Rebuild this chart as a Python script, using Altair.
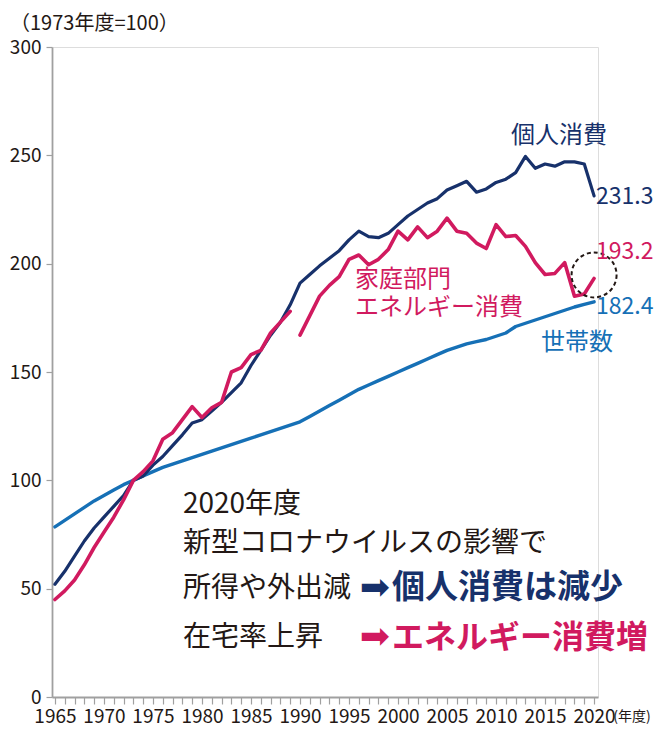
import altair as alt
import pandas as pd

# ---------------- data (1973年度 = 100) ----------------
years = list(range(1965, 2021))

consumption = [52, 58, 65, 72, 78, 83, 88, 93, 100, 102,
               107, 111, 116, 121, 126.5, 128, 132, 136, 140.5, 145,
               153, 160, 167, 173, 181, 191, 195, 199, 202.5, 206,
               211, 215, 212.5, 212, 214, 218, 222, 225, 228, 230,
               234, 236, 238, 233, 234.5, 237.5, 239, 242, 249.5, 244,
               246, 245, 247, 247, 246, 231.3]

energy_years_a = list(range(1965, 1990))
energy_a = [45, 49, 54, 61, 69, 76, 83, 91, 100, 104,
            109, 119, 122, 128, 134, 129, 133.5, 136, 150, 152,
            158, 160, 168, 173, 178]

energy_years_b = list(range(1990, 2021))
energy_b = [167, 176, 185, 190, 194, 202, 204, 199.5, 202, 206.5,
            215, 211, 217, 212, 215, 221, 215, 214, 209.5, 207,
            218, 212.5, 213, 208, 200.5, 195, 195.5, 200.5, 185, 186,
            193.2]

households = [78.5, 81.5, 84.5, 87.5, 90.5, 93, 95.5, 98, 100, 102,
              104, 106, 107.5, 109, 110.5, 112, 113.5, 115, 116.5, 118,
              119.5, 121, 122.5, 124, 125.5, 127, 129.5, 132, 134.5, 137,
              139.5, 142, 144, 146, 148, 150, 152, 154, 156, 158,
              160, 161.5, 163, 164, 165, 166.5, 168, 171, 172.5, 174,
              175.5, 177, 178.5, 180, 181.2, 182.4]

y_ticks = [0, 50, 100, 150, 200, 250, 300]

# ---------------- style ----------------
NAVY = "#17316b"
MAGENTA = "#d11a5f"
BLUE = "#1670b6"
INK = "#231815"
GRAY = "#a0a0a0"
FONT = "Noto Sans CJK JP"

W, H = 546, 650
X_DOMAIN = [1964.7, 2020.4]

x_enc = alt.X(
    "year:Q",
    scale=alt.Scale(domain=X_DOMAIN, nice=False, zero=False),
    axis=alt.Axis(
        values=years,
        labelExpr="datum.value % 5 == 0 ? '' + datum.value : ''",
        tickSize=7, tickColor=GRAY, tickWidth=1.2,
        domainColor=GRAY, domainWidth=1.8,
        labelFontSize=19, labelColor=INK, labelFont=FONT,
        labelPadding=3, labelOverlap=False, labelFlush=False,
        labelBound=False, grid=False, title=None,
    ),
)
y_enc = alt.Y(
    "value:Q",
    scale=alt.Scale(domain=[0, 300], nice=False),
    axis=alt.Axis(
        values=y_ticks,
        tickSize=6, tickColor=GRAY, tickWidth=1.2,
        domainColor=GRAY, domainWidth=1.8,
        labelFontSize=19, labelColor=INK, labelFont=FONT,
        labelPadding=5, grid=False, title=None,
    ),
)

df_c = pd.DataFrame({"year": years, "value": consumption})
df_h = pd.DataFrame({"year": years, "value": households})
df_e = pd.DataFrame({
    "year": energy_years_a + energy_years_b,
    "value": energy_a + energy_b,
    "seg": ["a"] * len(energy_a) + ["b"] * len(energy_b),
})

line_h = alt.Chart(df_h).mark_line(color=BLUE, strokeWidth=3.4, strokeCap="round", strokeJoin="round").encode(x=x_enc, y=y_enc)
line_c = alt.Chart(df_c).mark_line(color=NAVY, strokeWidth=3.2, strokeCap="round", strokeJoin="round").encode(x=x_enc, y=y_enc)
line_e = alt.Chart(df_e).mark_line(color=MAGENTA, strokeWidth=3.6, strokeCap="round", strokeJoin="round").encode(x=x_enc, y=y_enc, detail="seg:N")


def label(text, year, value, color, size, align="left", weight="normal", font=FONT, dx=0, dy=0, baseline="middle"):
    d = pd.DataFrame({"year": [year], "value": [value], "t": [text]})
    return alt.Chart(d).mark_text(
        align=align, baseline=baseline, fontSize=size, font=font,
        color=color, fontWeight=weight, dx=dx, dy=dy,
    ).encode(x=x_enc, y=y_enc, text="t:N")


labels = [
    label("個人消費", 2016.42, 258.9, NAVY, 24, align="center"),
    label("231.3", 2020, 230.8, NAVY, 23, dx=2),
    label("193.2", 2020, 205.4, MAGENTA, 23, dx=2),
    label("182.4", 2020, 179.8, BLUE, 23, dx=2),
    label("世帯数", 2018.26, 163.2, BLUE, 24, align="center"),
    label("家庭部門", 1995.61, 192.6, MAGENTA, 24),
    label("エネルギー消費", 1995.61, 179.4, MAGENTA, 24),
    label("2020年度", 1978.06, 88.6, INK, 28),
    label("新型コロナウイルスの影響で", 1978.06, 70.6, INK, 28),
    label("所得や外出減", 1978.06, 49.8, INK, 28),
    label("在宅率上昇", 1978.06, 27.2, INK, 28),
    label("➡", 1996.1, 50.0, NAVY, 36, font="DejaVu Sans", dy=-1),
    label("➡", 1996.1, 27.4, MAGENTA, 36, font="DejaVu Sans", dy=-1),
    label("個人消費は減少", 1999.38, 50.2, NAVY, 33, weight="bold"),
    label("エネルギー消費増", 1999.38, 27.4, MAGENTA, 32, weight="bold"),
    # unit of the x axis, on the same line as the year labels
    label("(年度)", 2021.95, 0, INK, 14, dy=13, baseline="top"),
]

circle_df = pd.DataFrame({"year": [2020.0], "value": [194.8]})
circle = alt.Chart(circle_df).mark_point(
    shape="circle", size=2025, filled=False, color=INK,
    strokeWidth=2, strokeDash=[4, 3], opacity=1,
).encode(x=x_enc, y=y_enc)

title = alt.Chart(pd.DataFrame({"t": ["（1973年度=100）"]})).mark_text(
    align="left", baseline="middle", fontSize=20, font=FONT, color=INK,
).encode(x=alt.value(-42), y=alt.value(-23), text="t:N")

chart = alt.layer(
    line_h, line_c, line_e, circle, *labels, title
).properties(
    width=W, height=H,
    autosize=alt.AutoSizeParams(type="none"),
    padding={"left": 44, "top": 39, "right": 57, "bottom": 31},
).configure_view(stroke=None).configure(background="white")

chart.save("out.html", embed_options={"renderer": "svg", "actions": False})
